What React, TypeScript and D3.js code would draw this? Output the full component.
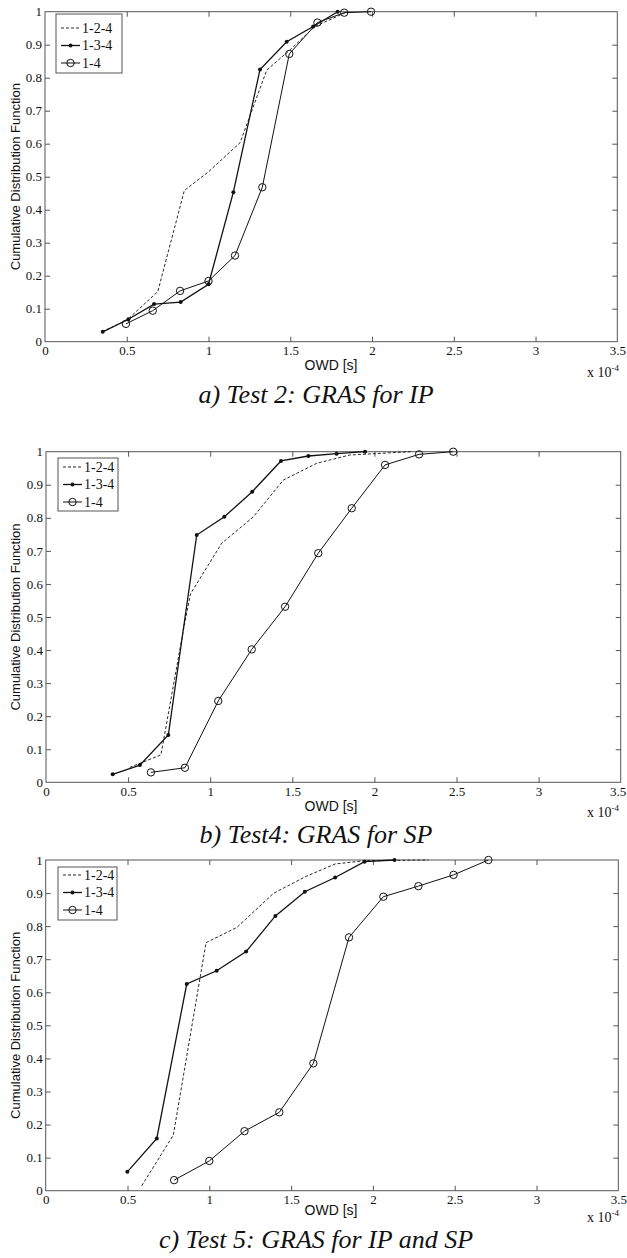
import React, { useEffect, useRef } from "react";
import * as d3 from "d3";

// Axis ticks shared by all three panels (OWD in units of 1e-4 s)
const xTicks = [0, 0.5, 1, 1.5, 2, 2.5, 3, 3.5];
const yTicks = [0, 0.1, 0.2, 0.3, 0.4, 0.5, 0.6, 0.7, 0.8, 0.9, 1];
const seriesNames = ["1-2-4", "1-3-4", "1-4"];

// Test 2: GRAS for IP
const test2Path124: [number, number][] = [[0.35, 0.03], [0.5, 0.065], [0.69, 0.152], [0.852, 0.458], [1.0, 0.515], [1.193, 0.603], [1.356, 0.823], [1.5, 0.885], [1.65, 0.955], [1.85, 1.0]];
const test2Path134: [number, number][] = [[0.353, 0.03], [0.51, 0.068], [0.667, 0.114], [0.83, 0.12], [1.0, 0.174], [1.152, 0.453], [1.315, 0.825], [1.478, 0.909], [1.64, 0.955], [1.79, 1.0]];
const test2Path14: [number, number][] = [[0.495, 0.054], [0.659, 0.094], [0.826, 0.154], [1.0, 0.184], [1.162, 0.261], [1.329, 0.468], [1.494, 0.872], [1.666, 0.967], [1.83, 0.997], [1.994, 1.0]];

// Test 4: GRAS for SP
const test4Path124: [number, number][] = [[0.51, 0.045], [0.7, 0.083], [0.84, 0.47], [0.88, 0.57], [1.07, 0.723], [1.263, 0.803], [1.445, 0.914], [1.649, 0.965], [1.85, 0.99], [2.22, 1.0]];
const test4Path134: [number, number][] = [[0.406, 0.024], [0.572, 0.052], [0.745, 0.143], [0.918, 0.748], [1.086, 0.803], [1.256, 0.879], [1.431, 0.972], [1.598, 0.987], [1.77, 0.994], [1.943, 1.0]];
const test4Path14: [number, number][] = [[0.639, 0.03], [0.846, 0.044], [1.049, 0.246], [1.253, 0.402], [1.456, 0.531], [1.658, 0.693], [1.862, 0.829], [2.065, 0.96], [2.272, 0.992], [2.48, 1.0]];

// Test 5: GRAS for IP and SP
const test5Path124: [number, number][] = [[0.587, 0.015], [0.78, 0.168], [0.98, 0.75], [1.168, 0.796], [1.392, 0.899], [1.585, 0.949], [1.769, 0.988], [1.953, 0.998], [2.34, 1.0]];
const test5Path134: [number, number][] = [[0.499, 0.057], [0.679, 0.158], [0.862, 0.625], [1.045, 0.665], [1.225, 0.723], [1.404, 0.831], [1.584, 0.904], [1.769, 0.947], [1.949, 0.995], [2.132, 1.0]];
const test5Path14: [number, number][] = [[0.785, 0.032], [1.0, 0.09], [1.215, 0.18], [1.428, 0.237], [1.636, 0.385], [1.854, 0.766], [2.064, 0.889], [2.278, 0.921], [2.493, 0.955], [2.706, 1.0]];

const captions = ["a) Test 2: GRAS for IP", "b) Test4: GRAS for SP", "c) Test 5: GRAS for IP and SP"];

// Frame and label placement for each panel
const layouts = [
  { left: 45, right: 617.3, top: 11.7, bottom: 341.7, leg: { x: 56, y: 14, w: 66, h: 59, pad: 14 }, owdY: 370, expY: 377, capY: 403 },
  { left: 46, right: 620.7, top: 451.7, bottom: 782.3, leg: { x: 58, y: 458, w: 60, h: 53, pad: 9 }, owdY: 810.5, expY: 817, capY: 843 },
  { left: 45.7, right: 618.3, top: 860, bottom: 1190.7, leg: { x: 58, y: 867, w: 59, h: 53, pad: 8 }, owdY: 1214.5, expY: 1222, capY: 1248 },
];

const panelSeries = [
  [test2Path124, test2Path134, test2Path14],
  [test4Path124, test4Path134, test4Path14],
  [test5Path124, test5Path134, test5Path14],
];

const SERIF = "'Liberation Serif', 'Times New Roman', serif";
const SANS = "'Liberation Sans', Arial, sans-serif";

export default function App() {
  const ref = useRef<SVGSVGElement | null>(null);

  useEffect(() => {
    const svg = d3.select(ref.current);
    svg.selectAll("*").remove();

    layouts.forEach((L, pi) => {
      const g = svg.append("g");
      const x = d3.scaleLinear().domain([0, 3.5]).range([L.left, L.right]);
      const y = d3.scaleLinear().domain([0, 1]).range([L.bottom, L.top]);
      const fmt = (d: d3.NumberValue) => String(+d);

      // frame
      g.append("rect")
        .attr("x", L.left).attr("y", L.top)
        .attr("width", L.right - L.left).attr("height", L.bottom - L.top)
        .attr("fill", "none").attr("stroke", "#555").attr("stroke-width", 1);

      const styleAxis = (sel: d3.Selection<SVGGElement, unknown, null, undefined>) => {
        sel.select(".domain").remove();
        sel.selectAll(".tick line").attr("stroke", "#555");
        sel.selectAll(".tick text").attr("fill", "#111").style("font-family", SERIF).style("font-size", "13px");
      };

      const bottom = g.append("g").attr("transform", `translate(0,${L.bottom})`)
        .call(d3.axisBottom(x).tickValues(xTicks).tickFormat(fmt).tickSize(-5).tickSizeOuter(0).tickPadding(4));
      styleAxis(bottom as any);
      // keep the last label inside the page
      bottom.selectAll(".tick text").filter((d: any) => d === 3.5 && L.right > 619).attr("dx", -3);
      const top = g.append("g").attr("transform", `translate(0,${L.top})`)
        .call(d3.axisTop(x).tickValues(xTicks).tickFormat(() => "").tickSize(-5).tickSizeOuter(0));
      styleAxis(top as any);
      const left = g.append("g").attr("transform", `translate(${L.left},0)`)
        .call(d3.axisLeft(y).tickValues(yTicks).tickFormat(fmt).tickSize(-5).tickSizeOuter(0).tickPadding(3));
      styleAxis(left as any);
      const right = g.append("g").attr("transform", `translate(${L.right},0)`)
        .call(d3.axisRight(y).tickValues(yTicks).tickFormat(() => "").tickSize(-5).tickSizeOuter(0));
      styleAxis(right as any);
      // drop the edge ticks that coincide with the frame
      [bottom, top].forEach((a) => a.selectAll(".tick line").filter((d: any) => d === 0 || d === 3.5).remove());
      [left, right].forEach((a) => a.selectAll(".tick line").filter((d: any) => d === 0 || d === 1).remove());

      // axis labels
      g.append("text")
        .attr("transform", `translate(20,${(L.top + L.bottom) / 2}) rotate(-90)`)
        .attr("text-anchor", "middle")
        .style("font-family", SANS).style("font-size", "13px").attr("fill", "#111")
        .text("Cumulative Distribution Function");
      g.append("text")
        .attr("x", 331).attr("y", L.owdY).attr("text-anchor", "middle")
        .style("font-family", SANS).style("font-size", "14px").attr("fill", "#111")
        .text("OWD [s]");
      const exp = g.append("text")
        .attr("x", 587).attr("y", L.expY)
        .style("font-family", SERIF).style("font-size", "14px").attr("fill", "#111");
      exp.append("tspan").text("x 10");
      exp.append("tspan").attr("dy", -6).style("font-size", "9px").text("-4");

      // caption
      g.append("text")
        .attr("x", 316).attr("y", L.capY).attr("text-anchor", "middle")
        .style("font-family", SERIF).style("font-size", "26px").style("font-style", "italic").attr("fill", "#111")
        .text(captions[pi]);

      // series
      const line = d3.line<[number, number]>().x((d) => x(d[0])).y((d) => y(d[1]));
      const [s124, s134, s14] = panelSeries[pi];

      g.append("path").attr("d", line(s124)!).attr("fill", "none")
        .attr("stroke", "#111").attr("stroke-width", 0.9).attr("stroke-dasharray", "3,2");

      g.append("path").attr("d", line(s14)!).attr("fill", "none")
        .attr("stroke", "#111").attr("stroke-width", 1);
      g.selectAll(".c14").data(s14).enter().append("circle")
        .attr("cx", (d) => x(d[0])).attr("cy", (d) => y(d[1])).attr("r", 3.7)
        .attr("fill", "none").attr("stroke", "#111").attr("stroke-width", 1);

      g.append("path").attr("d", line(s134)!).attr("fill", "none")
        .attr("stroke", "#111").attr("stroke-width", 1.3);
      g.selectAll(".d134").data(s134).enter().append("circle")
        .attr("cx", (d) => x(d[0])).attr("cy", (d) => y(d[1])).attr("r", 2)
        .attr("fill", "#111");

      // legend
      const lg = g.append("g");
      lg.append("rect").attr("x", L.leg.x).attr("y", L.leg.y).attr("width", L.leg.w).attr("height", L.leg.h)
        .attr("fill", "white").attr("stroke", "#555").attr("stroke-width", 1);
      seriesNames.forEach((name, i) => {
        const ry = L.leg.y + L.leg.pad + i * 17.5;
        const x0 = L.leg.x + 5, x1 = L.leg.x + 24, xm = (x0 + x1) / 2;
        const ln = lg.append("line").attr("x1", x0).attr("x2", x1).attr("y1", ry).attr("y2", ry)
          .attr("stroke", "#111").attr("stroke-width", i === 1 ? 1.3 : i === 0 ? 0.9 : 1);
        if (i === 0) ln.attr("stroke-dasharray", "3,2");
        if (i === 1) lg.append("circle").attr("cx", xm).attr("cy", ry).attr("r", 2).attr("fill", "#111");
        if (i === 2) lg.append("circle").attr("cx", xm).attr("cy", ry).attr("r", 3.7).attr("fill", "none").attr("stroke", "#111");
        lg.append("text").attr("x", x1 + 2).attr("y", ry).attr("dy", "0.35em")
          .style("font-family", SERIF).style("font-size", "14px").attr("fill", "#111").text(name);
      });
    });
  }, []);

  return (
    <svg
      ref={ref}
      width={627}
      height={1258}
      style={{ position: "absolute", left: 0, top: 0, background: "white" }}
    />
  );
}
